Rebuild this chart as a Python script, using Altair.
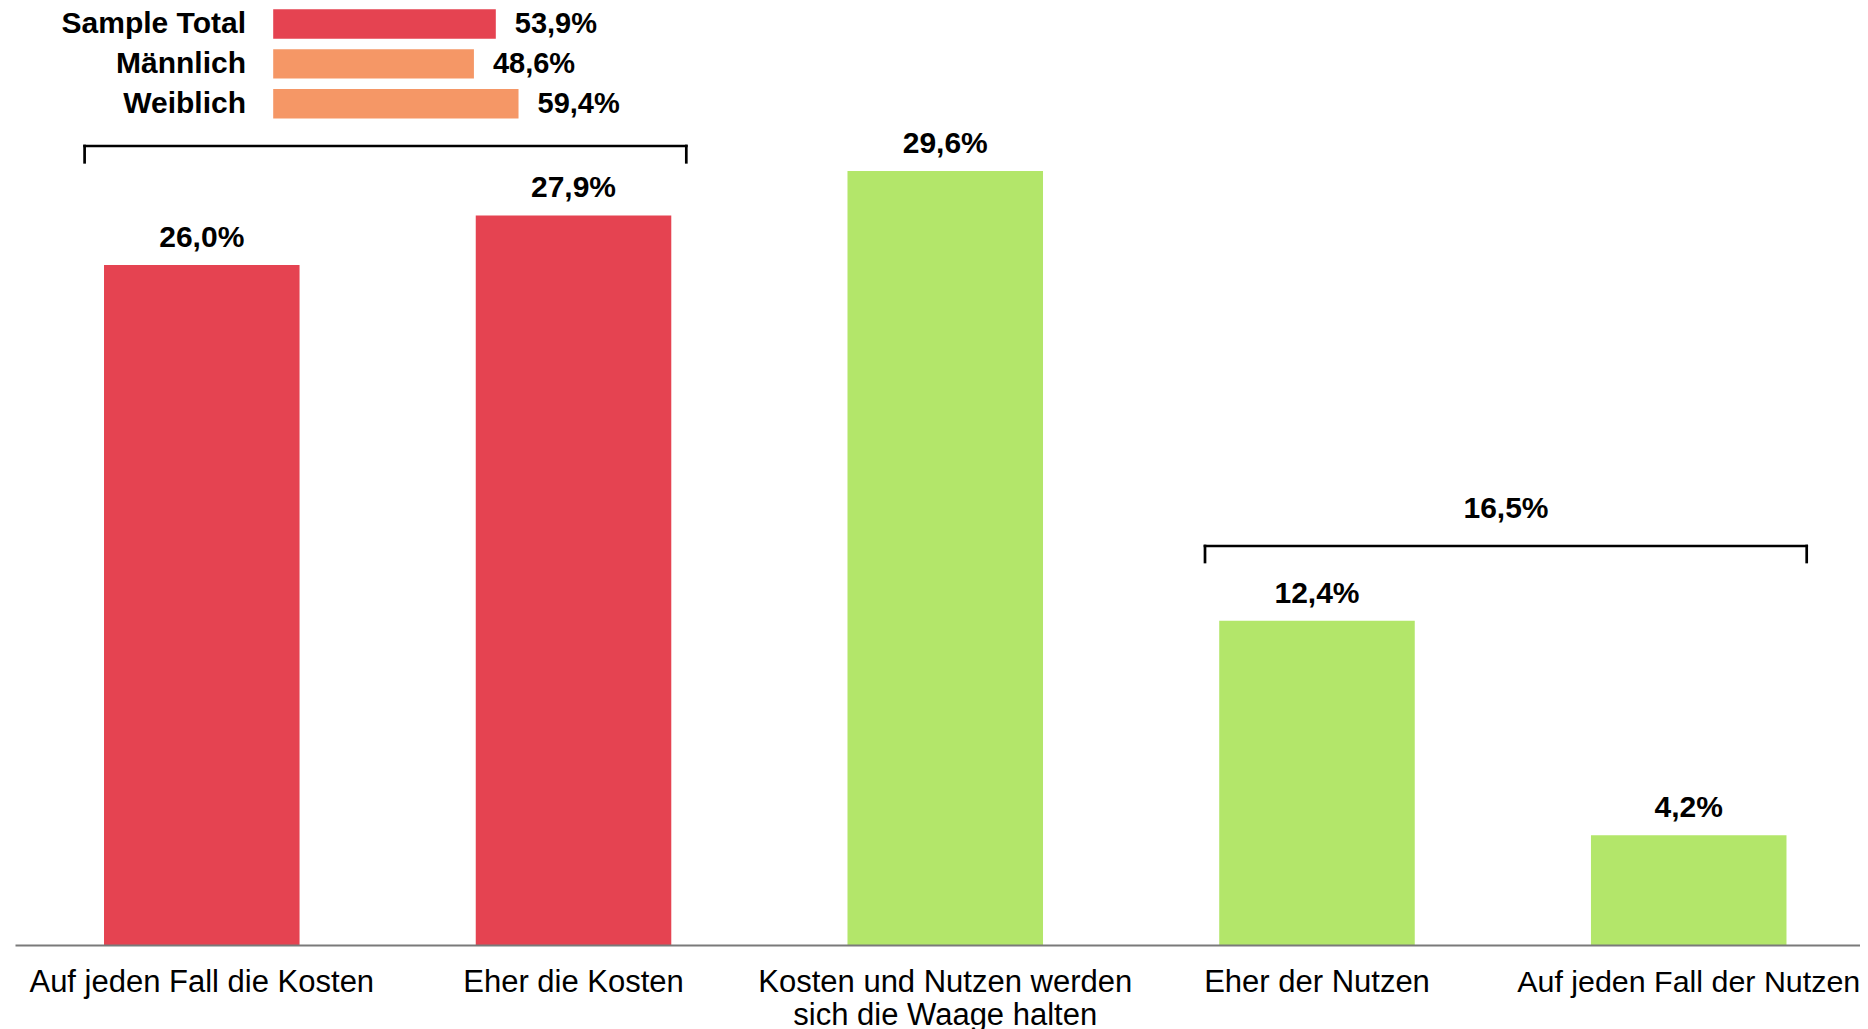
import altair as alt
import pandas as pd

# ---------------- data ----------------
categories = [
    "Auf jeden Fall die Kosten",
    "Eher die Kosten",
    "Kosten und Nutzen werden sich die Waage halten",
    "Eher der Nutzen",
    "Auf jeden Fall der Nutzen",
]
shares = [26.0, 27.9, 29.6, 12.4, 4.2]
sides = ["Kosten", "Kosten", "Nutzen", "Nutzen", "Nutzen"]

summary_groups = ["Sample Total", "Männlich", "Weiblich"]
summary_shares = [53.9, 48.6, 59.4]

nutzen_total = [16.5]

# ---------------- styles ----------------
RED = "#E54351"
ORANGE = "#F59766"
GREEN = "#B3E66A"
FONT = "Liberation Sans"


def de_pct(v):
    return f"{v:.1f}".replace(".", ",") + "%"


bars_df = pd.DataFrame({
    "category": categories,
    "share": shares,
    "side": sides,
    "label": [de_pct(v) for v in shares],
})
summary_df = pd.DataFrame({
    "group": summary_groups,
    "share": summary_shares,
    "label": [de_pct(v) for v in summary_shares],
})
total_df = pd.DataFrame({"label": [de_pct(v) for v in nutzen_total]})
one = pd.DataFrame({"k": [0]})

W, H = 1845, 937

x_scale = alt.Scale(domain=categories, paddingInner=0.474, paddingOuter=0.2186, align=0.5477)
y_scale = alt.Scale(domain=[0, 35.83], nice=False, zero=True)

label_expr = ("datum.value == 'Kosten und Nutzen werden sich die Waage halten' ? "
              "['Kosten und Nutzen werden', 'sich die Waage halten'] : datum.label")

x_axis = alt.Axis(title=None, labelAngle=0, labelFont=FONT,
                  labelFontSize={"condition": {"test": "datum.value == 'Auf jeden Fall der Nutzen'",
                                               "value": 30.4},
                                 "value": 31},
                  labelColor="#000000", labelPadding=22, labelLineHeight=33,
                  labelExpr=label_expr, ticks=False, domainColor="#7a7a7a",
                  domainWidth=2, labelLimit=0, grid=False, labelOverlap=False,
                  labelBound=False, zindex=1)

bars = alt.Chart(bars_df).mark_bar().encode(
    x=alt.X("category:N", sort=categories, scale=x_scale, axis=x_axis),
    y=alt.Y("share:Q", scale=y_scale, axis=None),
    color=alt.Color("side:N", scale=alt.Scale(domain=["Kosten", "Nutzen"], range=[RED, GREEN]),
                    legend=None),
)

bar_labels = alt.Chart(bars_df).mark_text(
    font=FONT, fontSize=30, fontWeight="bold", baseline="alphabetic", dy=-18, color="#000000"
).encode(
    x=alt.X("category:N", sort=categories, scale=x_scale, axis=x_axis),
    y=alt.Y("share:Q", scale=y_scale, axis=None),
    text="label:N",
)


def bracket(x1, x2, ytop, ybot):
    base = alt.Chart(one)
    kw = dict(color="#000000", strokeWidth=2.7, strokeCap="square")
    top = base.mark_rule(**kw).encode(x=alt.value(x1), x2=alt.value(x2), y=alt.value(ytop))
    left = base.mark_rule(**kw).encode(x=alt.value(x1), y=alt.value(ytop), y2=alt.value(ybot))
    right = base.mark_rule(**kw).encode(x=alt.value(x2), y=alt.value(ytop), y2=alt.value(ybot))
    return [top, left, right]


br1 = bracket(69.6, 671.3, 138, 154.3)
br2 = bracket(1190, 1791.7, 538, 554)

total_label = alt.Chart(total_df).mark_text(
    font=FONT, fontSize=30, fontWeight="bold", baseline="alphabetic", align="center", color="#000000"
).encode(x=alt.value(1491), y=alt.value(510), text="label:N")

main = alt.layer(bars, bar_labels, *br1, *br2, total_label)

# summary mini bars at the top
sx = alt.Scale(domain=[0, 100], range=[258.2, 671.2])
sy = alt.Scale(domain=summary_groups, range=[1.3, 110.4], paddingInner=0.262, paddingOuter=0)

s_bars = alt.Chart(summary_df).mark_bar().encode(
    x=alt.X("share:Q", scale=sx, axis=None),
    y=alt.Y("group:N", sort=summary_groups, scale=sy, axis=None),
    color=alt.Color("group:N", scale=alt.Scale(domain=summary_groups, range=[RED, ORANGE, ORANGE]),
                    legend=None),
)
s_vals = alt.Chart(summary_df).mark_text(
    font=FONT, fontSize=29, fontWeight="bold", align="left", baseline="middle", dx=19, color="#000000"
).encode(
    x=alt.X("share:Q", scale=sx, axis=None),
    y=alt.Y("group:N", sort=summary_groups, scale=sy, axis=None),
    text="label:N",
)
s_names = alt.Chart(summary_df).mark_text(
    font=FONT, fontSize=30, fontWeight="bold", align="right", baseline="middle", color="#000000"
).encode(
    x=alt.value(231),
    y=alt.Y("group:N", sort=summary_groups, scale=sy, axis=None),
    text="group:N",
)
summary = alt.layer(s_bars, s_vals, s_names)

chart = alt.layer(main, summary).resolve_scale(
    x="independent", y="independent", color="independent"
).resolve_axis(
    x="independent", y="independent"
).properties(
    width=W, height=H,
    autosize=alt.AutoSizeParams(type="none"),
    padding={"left": 7, "top": 0, "right": 0, "bottom": 100},
    background="#ffffff",
).configure_view(stroke=None)

chart.save("out.html", embed_options={"renderer": "svg", "actions": False})
